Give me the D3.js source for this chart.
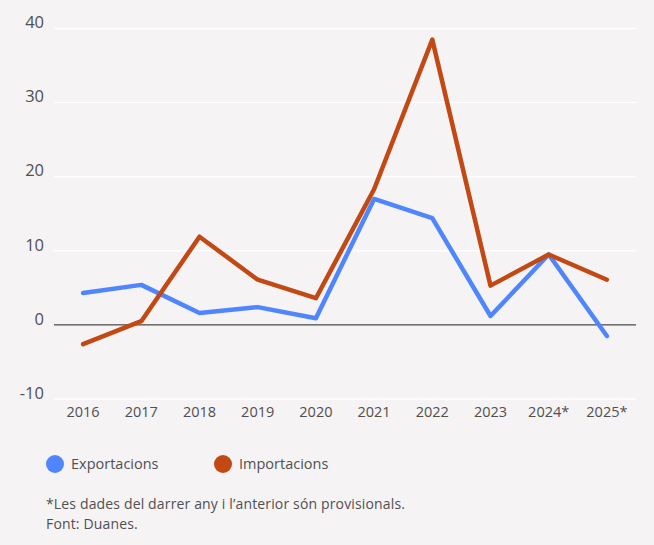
<!DOCTYPE html>
<html>
<head>
<meta charset="utf-8">
<script src="https://cdn.jsdelivr.net/npm/d3@7"></script>
<style>
  body { margin: 0; background: #f5f3f4; }
  svg { display: block; font-family: 'Open Sans', 'Noto Sans', sans-serif; }
</style>
</head>
<body>
<svg id="chart" width="654" height="545"></svg>
<script>
const years = ['2016', '2017', '2018', '2019', '2020', '2021', '2022', '2023', '2024*', '2025*'];
const exportacions = [4.3, 5.4, 1.6, 2.4, 0.9, 17.0, 14.4, 1.2, 9.5, -1.5];
const importacions = [-2.6, 0.5, 11.9, 6.1, 3.6, 18.3, 38.5, 5.3, 9.5, 6.1];
const yTicks = [-10, 0, 10, 20, 30, 40];

const EXP_COLOR = '#4f86ff';
const IMP_COLOR = '#c24914';
const TEXT_COLOR = '#505050';

(function() {
    var svg = d3.select('#chart');
    var left = 54, right = 636, top = 28.5, bottom = 399;

    svg.append('rect')
    .attr('width', 654).attr('height', 545)
    .style('fill', '#f5f3f4');

    var x = d3.scalePoint()
    .domain(years)
    .range([left, right])
    .padding(0.5);

    var y = d3.scaleLinear()
    .domain([-10, 40])
    .range([bottom, top]);

    //gridlines
    svg.append('g').selectAll('line')
    .data(yTicks)
    .join('line')
    .attr('x1', left).attr('x2', right)
    .attr('y1', d => y(d)).attr('y2', d => y(d))
    .style('stroke', d => d === 0 ? '#222' : '#ffffff')
    .style('stroke-width', d => d === 0 ? 1 : 1.5);

    //y labels
    svg.append('g').selectAll('text')
    .data(yTicks)
    .join('text')
    .attr('x', 44)
    .attr('y', d => y(d) - 6)
    .attr('dy', '0.35em')
    .attr('text-anchor', 'end')
    .style('font-size', '16.5px')
    .style('fill', TEXT_COLOR)
    .text(d => d);

    //x labels
    svg.append('g').selectAll('text')
    .data(years)
    .join('text')
    .attr('x', d => x(d))
    .attr('y', 412)
    .attr('dy', '0.35em')
    .attr('text-anchor', 'middle')
    .style('font-size', '14.5px')
    .style('fill', TEXT_COLOR)
    .text(d => d);

    var line = d3.line()
    .x((d, i) => x(years[i]))
    .y(d => y(d));

    svg.append('path')
    .datum(exportacions)
    .attr('d', line)
    .style('fill', 'none')
    .style('stroke', EXP_COLOR)
    .style('stroke-width', 4.5)
    .style('stroke-linejoin', 'round')
    .style('stroke-linecap', 'round');

    svg.append('path')
    .datum(importacions)
    .attr('d', line)
    .style('fill', 'none')
    .style('stroke', IMP_COLOR)
    .style('stroke-width', 4.5)
    .style('stroke-linejoin', 'round')
    .style('stroke-linecap', 'round');

    //legend
    var legend = [{name: 'Exportacions', color: EXP_COLOR, x: 55},
                  {name: 'Importacions', color: IMP_COLOR, x: 223}];
    var lg = svg.append('g').selectAll('g')
    .data(legend)
    .join('g')
    .attr('transform', d => 'translate(' + d.x + ',464)');
    lg.append('circle')
    .attr('r', 9)
    .style('fill', d => d.color);
    lg.append('text')
    .attr('x', 16)
    .attr('dy', '0.35em')
    .style('font-size', '14.5px')
    .style('fill', TEXT_COLOR)
    .text(d => d.name);

    //footnote
    svg.append('text')
    .attr('x', 46).attr('y', 509)
    .style('font-size', '14px')
    .style('letter-spacing', '0.15px')
    .style('fill', TEXT_COLOR)
    .text('*Les dades del darrer any i l\u2019anterior s\u00f3n provisionals.');
    svg.append('text')
    .attr('x', 46).attr('y', 528.5)
    .style('font-size', '14px')
    .style('letter-spacing', '0.15px')
    .style('fill', TEXT_COLOR)
    .text('Font: Duanes.');
})();
</script>
</body>
</html>
